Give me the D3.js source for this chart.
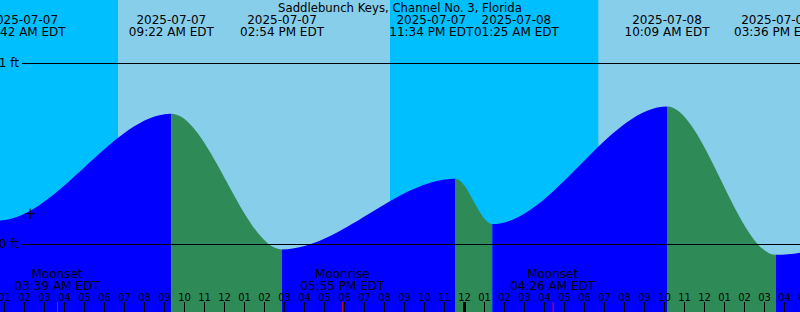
<!DOCTYPE html>
<html>
<head>
<meta charset="utf-8">
<script src="https://cdn.jsdelivr.net/npm/d3@7"></script>
<style>
  body { margin: 0; background: #fff; }
  svg { display: block; font-family: "DejaVu Sans", sans-serif; }
</style>
</head>
<body>
<svg id="chart" width="800" height="312"></svg>
<script>
var title = "Saddlebunch Keys, Channel No. 3, Florida";

// tide highs and lows (EDT), height in ft. first and last are just off the chart
var tideTimes = ["2025-07-06 22:50", "2025-07-07 00:42", "2025-07-07 09:22", "2025-07-07 14:54",
                 "2025-07-07 23:34", "2025-07-08 01:25", "2025-07-08 10:09", "2025-07-08 15:36",
                 "2025-07-09 00:20"];
var tideHeights = [0.35, 0.13, 0.72, -0.03, 0.36, 0.11, 0.76, -0.06, 0.38];

// sunrise / sunset pairs
var sunrises = ["2025-07-07 06:42", "2025-07-08 06:43"];
var sunsets  = ["2025-07-07 20:18", "2025-07-08 20:19"];

var moonTimes = ["2025-07-07 03:39", "2025-07-07 17:55", "2025-07-08 04:26"];
var moonKinds = ["Moonset", "Moonrise", "Moonset"];

var nowTime = "2025-07-07 02:17";
var nowHeight = 0.17;

var feetTicks = [0, 1];
var timeStart = "2025-07-07 00:48";
var timeEnd   = "2025-07-08 17:00";

var W = 800, H = 312;
var nightColor = "#00bfff", dayColor = "#87ceeb";
var risingColor = "#0000ff", fallingColor = "#2e8b57";

var parse = d3.timeParse("%Y-%m-%d %H:%M");
var fmtDate = d3.timeFormat("%Y-%m-%d");
var fmtTime = d3.timeFormat("%I:%M %p EDT");

var svg = d3.select("svg#chart");

// 20px per hour
var t0 = parse(timeStart), t1 = parse(timeEnd);
var x = d3.scaleTime().domain([t0, t1]).range([0, (t1 - t0) / 36e5 * 20]);
var y = d3.scaleLinear().domain([0, 1]).range([244, 63]);

// night everywhere, then daylight bands
svg.append("rect").attr("width", W).attr("height", H).attr("fill", nightColor);
svg.selectAll("rect.day").data(sunrises).enter()
  .append("rect").attr("class", "day")
  .attr("x", (d, i) => x(parse(d)))
  .attr("width", (d, i) => x(parse(sunsets[i])) - x(parse(d)))
  .attr("y", 0).attr("height", H)
  .attr("fill", dayColor);

// tide curve, coloured per rising/falling segment
var pts = tideTimes.map((t, i) => ({t: parse(t), h: tideHeights[i]}));
var area = d3.area()
  .x(d => x(d.t))
  .y0(H)
  .y1(d => y(d.h))
  .curve(d3.curveMonotoneX);

var defs = svg.append("defs");
var segs = pts.slice(0, -1).map((p, i) => ({a: p, b: pts[i + 1], i: i}));
defs.selectAll("clipPath").data(segs).enter()
  .append("clipPath").attr("id", d => "seg" + d.i)
  .append("rect")
  .attr("x", d => x(d.a.t))
  .attr("width", d => x(d.b.t) - x(d.a.t))
  .attr("y", 0).attr("height", H);

svg.selectAll("path.tide").data(segs).enter()
  .append("path").attr("class", "tide")
  .attr("d", area(pts))
  .attr("clip-path", d => "url(#seg" + d.i + ")")
  .attr("fill", d => d.b.h > d.a.h ? risingColor : fallingColor);

// 0 ft / 1 ft lines
var yAxis = svg.append("g")
  .attr("transform", "translate(" + W + ",0)")
  .call(d3.axisLeft(y).tickValues(feetTicks).tickSize(W - 22).tickPadding(3)
        .tickFormat(d => d + " ft"));
yAxis.select(".domain").remove();
yAxis.attr("font-family", null).attr("font-size", 12);
yAxis.selectAll("text").attr("fill", "#000");

// hour ticks along the bottom
var xAxis = svg.append("g")
  .attr("transform", "translate(0," + H + ")")
  .call(d3.axisTop(x).ticks(d3.timeHour.every(1)).tickSize(10).tickPadding(1.5)
        .tickFormat(d3.timeFormat("%I")));
xAxis.select(".domain").remove();
xAxis.attr("font-family", null).attr("font-size", 10);
xAxis.selectAll("text").attr("fill", "#000");
xAxis.selectAll(".tick line")
  .attr("stroke-width", d => d.getHours() == 0 ? 3 : 1);

// moon rise/set marks
svg.selectAll("line.moon").data(moonTimes).enter()
  .append("line").attr("class", "moon")
  .attr("x1", d => x(parse(d)) + 0.5).attr("x2", d => x(parse(d)) + 0.5)
  .attr("y1", H - 10).attr("y2", H)
  .attr("stroke", "red");

var moonText = svg.selectAll("text.moon").data(moonTimes).enter()
  .append("text").attr("class", "moon")
  .attr("text-anchor", "middle").attr("font-size", 12);
moonText.append("tspan")
  .attr("x", d => x(parse(d))).attr("y", 278)
  .text((d, i) => moonKinds[i]);
moonText.append("tspan")
  .attr("x", d => x(parse(d))).attr("y", 290)
  .text(d => fmtTime(parse(d)));

// "now" marker
var nx = x(parse(nowTime)) + 0.5, ny = y(nowHeight) + 0.5;
svg.append("path")
  .attr("d", "M" + (nx - 4.5) + "," + ny + "H" + (nx + 4.5) + "M" + nx + "," + (ny - 5) + "V" + (ny + 5))
  .attr("stroke", "#000");

// title
svg.append("text")
  .attr("x", W / 2).attr("y", 12)
  .attr("text-anchor", "middle").attr("font-size", 11.7)
  .text(title);

// high / low labels at the top, only for events at (or right at the edge of) the chart
var edge = 16;
var labels = pts.map(p => ({cx: x(p.t), t: p.t}))
  .filter(d => d.cx > -edge && d.cx < W + edge);
var lab = svg.selectAll("text.tide").data(labels).enter()
  .append("text").attr("class", "tide")
  .attr("text-anchor", "middle").attr("font-size", 12);
lab.append("tspan").attr("x", d => d.cx).attr("y", 24).text(d => fmtDate(d.t));
lab.append("tspan").attr("x", d => d.cx).attr("y", 36).text(d => fmtTime(d.t));
lab.each(function(d) { d.w = this.getBBox().width; });

// keep a good part of each label on screen, then push colliding ones apart
var minVisible = 66;
labels.forEach(d => {
  d.cx = Math.max(d.cx, minVisible - d.w / 2);
  d.cx = Math.min(d.cx, W - minVisible + d.w / 2);
});
for (var i = 1; i < labels.length; i++) {
  var a = labels[i - 1], b = labels[i];
  var overlap = (a.cx + a.w / 2) - (b.cx - b.w / 2);
  if (overlap > 0) {
    a.cx -= overlap / 2;
    b.cx += overlap / 2;
  }
}
lab.selectAll("tspan").attr("x", function() { return d3.select(this.parentNode).datum().cx; });
</script>
</body>
</html>
